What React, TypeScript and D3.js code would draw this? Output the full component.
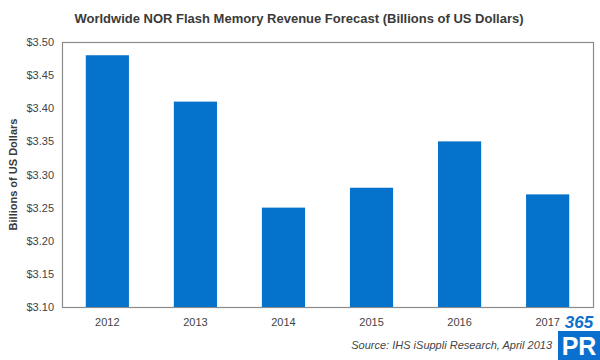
import { useRef, useEffect } from "react";
import * as d3 from "d3";

const years = ["2012", "2013", "2014", "2015", "2016", "2017"];
const revenue = [3.48, 3.41, 3.25, 3.28, 3.35, 3.27];
const yTicks = [3.1, 3.15, 3.2, 3.25, 3.3, 3.35, 3.4, 3.45, 3.5];

const W = 600,
  H = 360;
const FONT = "Liberation Sans, Arial, sans-serif";

export default function App() {
  const ref = useRef<SVGSVGElement>(null);

  useEffect(() => {
    if (!ref.current) return;
    const svg = d3.select(ref.current);
    svg.selectAll("*").remove();

    const L = 62,
      R = 593,
      T = 42,
      B = 307;

    svg.append("rect").attr("width", W).attr("height", H).attr("fill", "#fff");

    const x = d3.scaleBand().domain(years).range([L, R]).paddingInner(0.51).paddingOuter(0.27);
    const y = d3.scaleLinear().domain([3.1, 3.5]).range([B, T]);

    svg
      .append("text")
      .attr("x", 299)
      .attr("y", 23)
      .attr("text-anchor", "middle")
      .attr("font-family", FONT)
      .attr("font-size", 13)
      .attr("font-weight", 700)
      .attr("fill", "#3a3a3a")
      .text("Worldwide NOR Flash Memory Revenue Forecast (Billions of US Dollars)");

    svg
      .append("rect")
      .attr("x", L + 0.5)
      .attr("y", T + 0.5)
      .attr("width", R - L)
      .attr("height", B - T)
      .attr("fill", "none")
      .attr("stroke", "#8a8a8a")
      .attr("stroke-width", 1.2);

    svg
      .append("g")
      .selectAll("rect")
      .data(revenue)
      .join("rect")
      .attr("x", (_, i) => x(years[i])!)
      .attr("y", (d) => y(d))
      .attr("width", x.bandwidth())
      .attr("height", (d) => B - y(d))
      .attr("fill", "#0572cb");

    svg
      .append("g")
      .selectAll("text")
      .data(yTicks)
      .join("text")
      .attr("x", 54)
      .attr("y", (d) => y(d) + 4)
      .attr("text-anchor", "end")
      .attr("font-family", FONT)
      .attr("font-size", 11)
      .attr("fill", "#444")
      .text((d) => "$" + d3.format(".2f")(d));

    svg
      .append("g")
      .selectAll("text")
      .data(years)
      .join("text")
      .attr("x", (d) => x(d)! + x.bandwidth() / 2)
      .attr("y", 326)
      .attr("text-anchor", "middle")
      .attr("font-family", FONT)
      .attr("font-size", 11)
      .attr("fill", "#444")
      .text((d) => d);

    svg
      .append("text")
      .attr("transform", `translate(17,${(T + B) / 2}) rotate(-90)`)
      .attr("text-anchor", "middle")
      .attr("font-family", FONT)
      .attr("font-size", 11)
      .attr("font-weight", 700)
      .attr("fill", "#3a3a3a")
      .text("Billions of US Dollars");

    svg
      .append("text")
      .attr("x", 552)
      .attr("y", 349)
      .attr("text-anchor", "end")
      .attr("font-family", FONT)
      .attr("font-size", 11)
      .attr("font-style", "italic")
      .attr("fill", "#444")
      .text("Source: IHS iSuppli Research, April 2013");

    // 365PR watermark in the corner
    const logo = svg.append("g");
    logo.append("rect").attr("x", 560).attr("y", 313).attr("width", 40).attr("height", 17).attr("fill", "#fff");
    logo
      .append("text")
      .attr("x", 579)
      .attr("y", 328)
      .attr("text-anchor", "middle")
      .attr("font-family", FONT)
      .attr("font-size", 17)
      .attr("font-weight", 700)
      .attr("font-style", "italic")
      .attr("fill", "#0b6fd0")
      .text("365");
    logo.append("rect").attr("x", 558).attr("y", 331).attr("width", 42).attr("height", 29).attr("fill", "#0b6fd0");
    logo
      .append("text")
      .attr("x", 579)
      .attr("y", 355)
      .attr("text-anchor", "middle")
      .attr("font-family", FONT)
      .attr("font-size", 25)
      .attr("font-weight", 700)
      .attr("fill", "#fff")
      .text("PR");
  }, []);

  return <svg ref={ref} width={W} height={H} style={{ display: "block", position: "absolute", left: 0, top: 0 }} />;
}
